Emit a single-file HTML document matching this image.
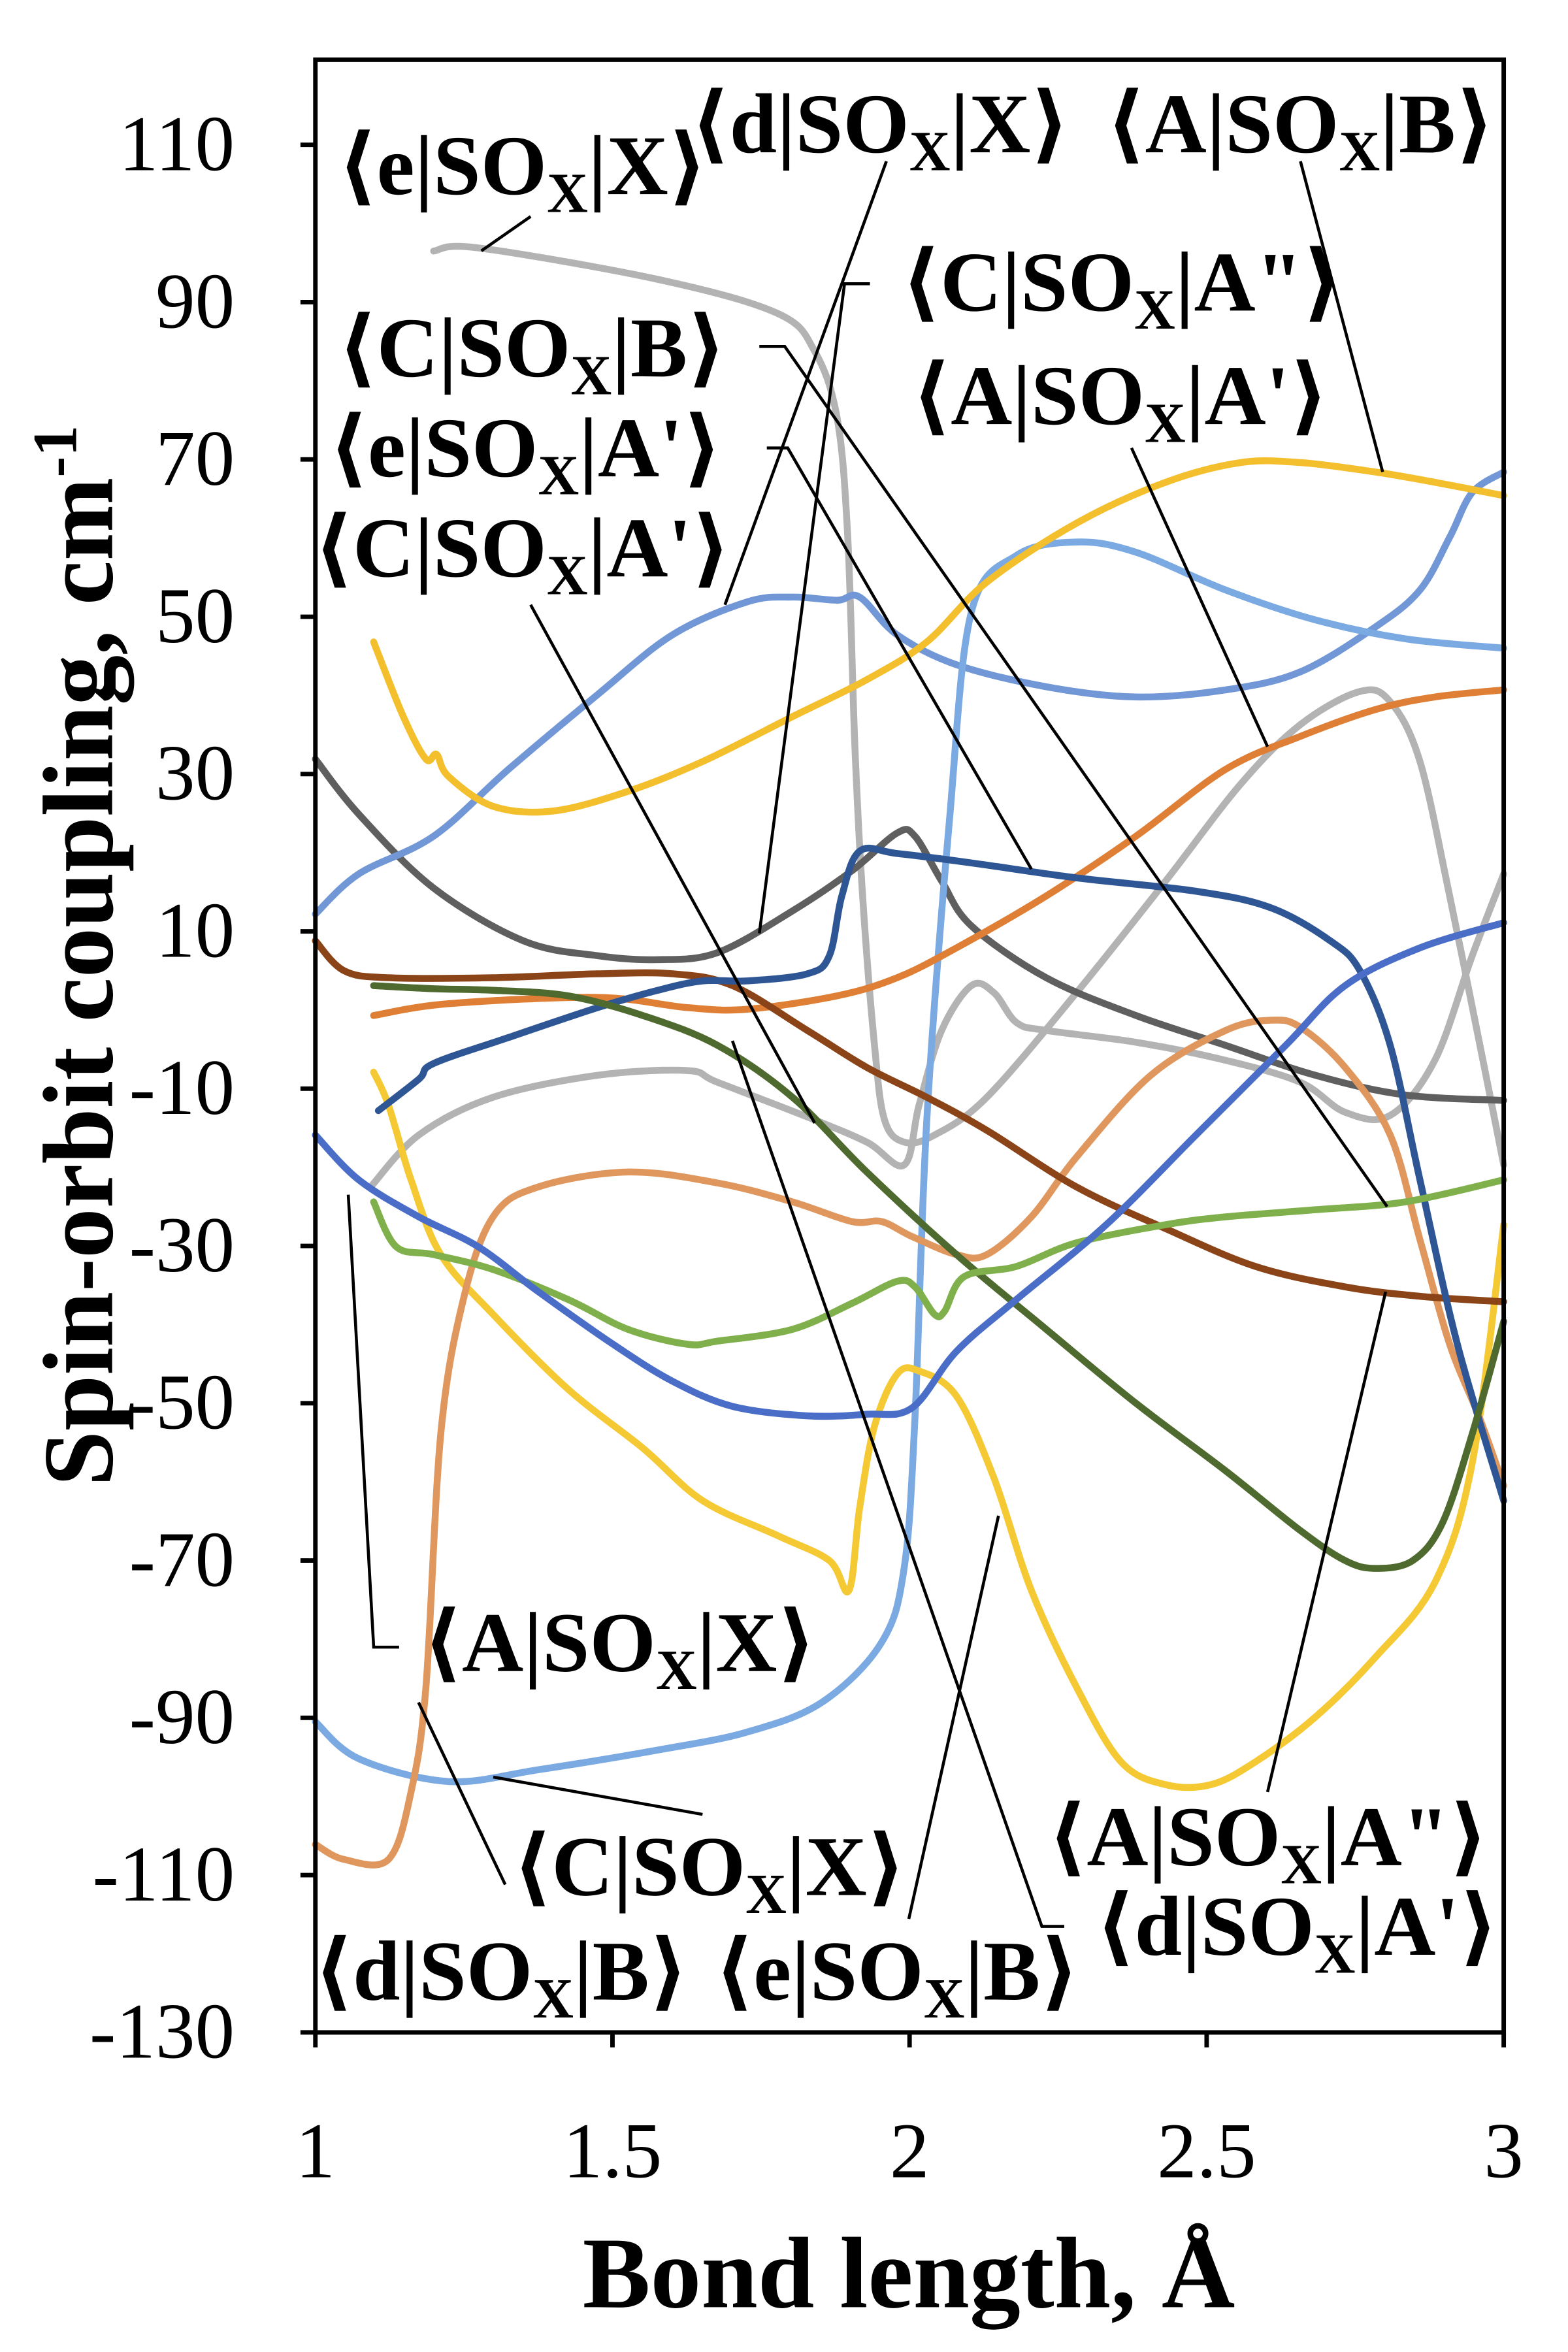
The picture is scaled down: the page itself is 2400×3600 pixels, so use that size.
<!DOCTYPE html>
<html><head><meta charset="utf-8">
<style>
html,body{margin:0;padding:0;background:#fff;}
svg{display:block;}
text{font-family:"Liberation Serif","DejaVu Serif",serif;fill:#000;}
.lab{font-size:57px;font-weight:bold;}
.tick{font-size:53px;}
</style></head>
<body>
<svg id="chart" xmlns="http://www.w3.org/2000/svg" width="2400" height="3600" viewBox="0 0 1049 1575" preserveAspectRatio="none">
<rect x="0" y="0" width="1049" height="1575" fill="#fff"/>
<g id="plot"></g>
<g id="leaders" stroke="#000" stroke-width="2" fill="none">
<polyline points="322,168 355,145"/>
<polyline points="485,405 593,108"/>
<polyline points="870,108 925,316"/>
<polyline points="508,625 565,190 582,190"/>
<polyline points="508,232 525,232 928,808"/>
<polyline points="757,300 848,500"/>
<polyline points="513,300 527,300 690,582"/>
<polyline points="355,405 545,752"/>
<polyline points="233,800 250,1103 267,1103"/>
<polyline points="330,1190 470,1215"/>
<polyline points="280,1140 338,1262"/>
<polyline points="668,1015 608,1285"/>
<polyline points="927,865 848,1200"/>
<polyline points="490,697 697,1290 712,1290"/>
</g>
<g id="labels">
<text class="lab" x="226" y="130">⟨e|SO<tspan font-size="38" dy="12">X</tspan><tspan dy="-12">|X⟩</tspan></text>
<text class="lab" x="462" y="102">⟨d|SO<tspan font-size="38" dy="12">X</tspan><tspan dy="-12">|X⟩</tspan></text>
<text class="lab" x="740" y="102">⟨A|SO<tspan font-size="38" dy="12">X</tspan><tspan dy="-12">|B⟩</tspan></text>
<text class="lab" x="603" y="208">⟨C|SO<tspan font-size="38" dy="12">X</tspan><tspan dy="-12">|A"⟩</tspan></text>
<text class="lab" x="226" y="252">⟨C|SO<tspan font-size="38" dy="12">X</tspan><tspan dy="-12">|B⟩</tspan></text>
<text class="lab" x="610" y="284">⟨A|SO<tspan font-size="38" dy="12">X</tspan><tspan dy="-12">|A'⟩</tspan></text>
<text class="lab" x="220" y="319">⟨e|SO<tspan font-size="38" dy="12">X</tspan><tspan dy="-12">|A'⟩</tspan></text>
<text class="lab" x="210" y="386">⟨C|SO<tspan font-size="38" dy="12">X</tspan><tspan dy="-12">|A'⟩</tspan></text>
<text class="lab" x="283" y="1119">⟨A|SO<tspan font-size="38" dy="12">X</tspan><tspan dy="-12">|X⟩</tspan></text>
<text class="lab" x="343" y="1269">⟨C|SO<tspan font-size="38" dy="12">X</tspan><tspan dy="-12">|X⟩</tspan></text>
<text class="lab" x="210" y="1339">⟨d|SO<tspan font-size="38" dy="12">X</tspan><tspan dy="-12">|B⟩</tspan></text>
<text class="lab" x="478" y="1339">⟨e|SO<tspan font-size="38" dy="12">X</tspan><tspan dy="-12">|B⟩</tspan></text>
<text class="lab" x="701" y="1249">⟨A|SO<tspan font-size="38" dy="12">X</tspan><tspan dy="-12">|A"⟩</tspan></text>
<text class="lab" x="733" y="1309">⟨d|SO<tspan font-size="38" dy="12">X</tspan><tspan dy="-12">|A'⟩</tspan></text>
</g>
<text x="608" y="1545" text-anchor="middle" font-size="68" font-weight="bold">Bond length, Å</text>
<text transform="translate(75,640) rotate(-90)" text-anchor="middle" font-size="67" font-weight="bold">Spin-orbit coupling, cm<tspan font-size="42" dy="-24">-1</tspan></text>
</svg>
<script>
const xTicks=[1,1.5,2,2.5,3];
const xTickLabels=["1","1.5","2","2.5","3"];
const yTicks=[110,90,70,50,30,10,-10,-30,-50,-70,-90,-110,-130];
const yTickLabels=["110","90","70","50","30","10","-10","-30","-50","-70","-90","-110","-130"];
const seriesNames=["e-x","x-lower-gray","c-a2","d-x","c-x","a-b","e-b","d-b","a-a1","a-a2","e-a1","d-a1","c-a1","a-x"];
const seriesColors=["#b3b3b3","#b3b3b3","#5f5f5f","#7197d6","#7ba9e2","#f3bf2c","#f4c934","#e0975e","#de7f35","#8b4318","#2f5694","#4f6a2e","#80b04b","#4a6dc7"];
const xs0=[1.199,1.274,1.576,1.777,1.840,1.878,1.896,1.908,1.921,1.941,1.958,1.991,2.042,2.130,2.281,2.431,2.557,2.658,2.758,2.809,2.859,2.909,2.960,3.0];
const ys0=[96.5,96.9,92.9,88.6,83.8,75.3,60.1,33.5,14.5,-4.5,-14.0,-16.8,-15.9,-11.1,2.2,16.4,28.7,36.3,40.5,39.2,31.6,14.5,-4.5,-19.7];
const xs1=[1.093,1.174,1.299,1.475,1.626,1.677,1.828,1.928,1.991,2.016,2.054,2.104,2.142,2.180,2.230,2.381,2.532,2.658,2.733,2.809,2.884,2.947,3.0];
const ys1=[-22.5,-15.9,-11.1,-8.3,-7.7,-9.2,-13.6,-16.8,-19.7,-12.1,-2.6,3.1,2.2,-1.6,-2.6,-4.1,-6.4,-9.2,-13.0,-13.4,-6.4,6.9,17.3];
const xs2=[1.0,1.073,1.199,1.350,1.475,1.576,1.677,1.803,1.903,1.979,2.009,2.054,2.104,2.230,2.381,2.532,2.683,2.834,3.0];
const ys2=[31.9,24.9,15.5,8.8,6.9,6.4,7.3,12.6,17.7,22.5,22.1,16.4,10.7,4.1,-0.7,-4.5,-8.3,-10.8,-11.5];
const xs3=[1.0,1.073,1.199,1.325,1.475,1.601,1.727,1.803,1.878,1.916,1.979,2.079,2.230,2.381,2.532,2.658,2.784,2.859,2.909,2.947,3.0];
const ys3=[12.2,17.3,22.1,30.6,40.1,47.7,51.9,52.5,52.1,52.5,47.7,43.9,41.1,39.8,40.7,43.0,48.7,53.4,60.1,65.8,68.4];
const xs4=[1.0,1.073,1.224,1.375,1.576,1.727,1.853,1.953,1.991,2.009,2.029,2.067,2.104,2.180,2.281,2.381,2.532,2.683,2.834,3.0];
const ys4=[-90.5,-95.2,-98.1,-96.6,-94.1,-91.8,-88.0,-80.4,-70.9,-52.0,-14.0,24.0,50.6,57.8,59.5,58.2,53.4,49.6,47.2,46.0];
const xs5=[1.098,1.148,1.186,1.204,1.224,1.299,1.400,1.526,1.652,1.803,1.928,2.029,2.130,2.281,2.431,2.557,2.658,2.784,2.884,3.0];
const ys5=[46.8,37.3,31.9,32.5,29.7,25.9,25.3,27.8,31.6,37.3,42.0,46.8,54.4,61.9,67.1,69.6,69.6,68.4,67.1,65.4];
const xs6=[1.098,1.123,1.161,1.211,1.299,1.425,1.551,1.652,1.777,1.865,1.898,1.916,1.941,1.979,2.016,2.079,2.142,2.205,2.281,2.356,2.431,2.507,2.582,2.683,2.784,2.884,2.947,3.0];
const ys6=[-7.9,-12.1,-21.6,-31.1,-38.7,-48.2,-55.7,-62.4,-66.8,-70.0,-73.8,-63.3,-52.9,-46.3,-45.9,-49.1,-59.5,-73.8,-86.1,-95.6,-98.5,-98.5,-95.6,-89.9,-82.3,-72.8,-57.6,-27.3];
const xs7=[1.0,1.048,1.123,1.161,1.186,1.211,1.249,1.299,1.375,1.526,1.677,1.803,1.903,1.953,2.004,2.079,2.130,2.205,2.281,2.406,2.532,2.608,2.658,2.733,2.809,2.859,2.909,2.960,3.0];
const ys7=[-106.1,-108.0,-108.0,-99.4,-86.1,-53.9,-36.8,-26.3,-22.5,-20.6,-22.0,-24.4,-26.9,-26.9,-28.8,-31.1,-31.1,-26.3,-18.7,-8.3,-2.6,-1.3,-2.2,-7.3,-15.9,-29.2,-42.5,-52.0,-60.5];
const xs8=[1.098,1.224,1.475,1.626,1.727,1.878,1.979,2.079,2.230,2.381,2.532,2.658,2.784,2.884,3.0];
const ys8=[-0.7,0.8,1.6,0.3,0.1,1.8,4.1,7.9,14.5,22.1,30.6,34.8,38.2,39.8,40.7];
const xs9=[1.0,1.048,1.123,1.299,1.475,1.601,1.702,1.828,1.928,2.029,2.130,2.281,2.431,2.582,2.733,2.859,3.0];
const ys9=[8.8,5.0,4.1,4.1,4.6,4.6,3.1,-2.6,-7.3,-11.1,-15.3,-22.5,-27.8,-32.6,-35.2,-36.4,-37.1];
const xs10=[1.106,1.174,1.199,1.325,1.475,1.576,1.652,1.727,1.828,1.865,1.886,1.916,1.979,2.104,2.281,2.482,2.608,2.708,2.758,2.809,2.859,2.922,3.0];
const ys10=[-12.8,-8.8,-6.8,-3.5,0.3,2.5,3.7,3.7,4.6,6.9,14.5,20.2,19.9,18.7,16.8,15.1,13.0,8.8,5.0,-4.5,-21.6,-42.5,-62.4];
const xs11=[1.098,1.199,1.299,1.425,1.551,1.677,1.803,1.928,2.079,2.230,2.381,2.532,2.658,2.733,2.784,2.847,2.897,2.947,3.0];
const ys11=[3.1,2.7,2.5,1.8,-0.7,-4.5,-11.1,-20.6,-31.1,-40.6,-50.0,-58.6,-66.2,-70.0,-71.0,-70.0,-65.2,-53.9,-39.6];
const xs12=[1.098,1.136,1.199,1.299,1.425,1.526,1.626,1.677,1.803,1.903,1.979,2.009,2.042,2.059,2.092,2.180,2.281,2.431,2.532,2.683,2.834,3.0];
const ys12=[-24.4,-30.1,-31.1,-33.0,-36.8,-40.6,-42.5,-42.1,-40.6,-37.3,-34.5,-35.2,-38.7,-38.3,-33.9,-32.6,-29.6,-27.3,-26.3,-25.4,-24.4,-21.6];
const xs13=[1.0,1.073,1.174,1.274,1.375,1.501,1.601,1.702,1.828,1.928,2.004,2.079,2.180,2.331,2.482,2.633,2.733,2.859,3.0];
const ys13=[-15.9,-21.6,-26.3,-30.1,-35.8,-42.5,-47.2,-50.4,-51.6,-51.4,-50.6,-43.4,-36.8,-27.3,-15.9,-4.5,3.1,7.9,11.1];
const seriesX=[xs0,xs1,xs2,xs3,xs4,xs5,xs6,xs7,xs8,xs9,xs10,xs11,xs12,xs13];
const seriesY=[ys0,ys1,ys2,ys3,ys4,ys5,ys6,ys7,ys8,ys9,ys10,ys11,ys12,ys13];

const L=211,R=1006,T=40,B=1361;
const xMin=1,xMax=3,yMin=-130,yMax=110,yTopPx=97;
function xScale(v){return L+(v-xMin)/(xMax-xMin)*(R-L);}
function yScale(v){return B-(v-yMin)/(yMax-yMin)*(B-yTopPx);}
const NS="http://www.w3.org/2000/svg";
const plot=document.getElementById('plot');
function mk(tag,attrs){const e=document.createElementNS(NS,tag);for(const k in attrs)e.setAttribute(k,attrs[k]);return e;}

for(let s=0;s<seriesX.length;s++){
  const px=seriesX[s].map(xScale), py=seriesY[s].map(yScale);
  let d="M"+px[0]+","+py[0];
  for(let i=0;i<px.length-1;i++){
    const p0x=px[Math.max(i-1,0)],p0y=py[Math.max(i-1,0)];
    const p3x=px[Math.min(i+2,px.length-1)],p3y=py[Math.min(i+2,px.length-1)];
    const c1x=px[i]+(px[i+1]-p0x)/6,c1y=py[i]+(py[i+1]-p0y)/6;
    const c2x=px[i+1]-(p3x-px[i])/6,c2y=py[i+1]-(p3y-py[i])/6;
    d+=" C"+c1x+","+c1y+" "+c2x+","+c2y+" "+px[i+1]+","+py[i+1];
  }
  const path=mk('path',{d:d,fill:'none',stroke:seriesColors[s],'stroke-width':4.6,'stroke-linejoin':'round','stroke-linecap':'round'});
  
  
  plot.appendChild(path);
}
const frame=mk('rect',{x:L,y:T,width:R-L,height:B-T,fill:'none',stroke:'#000','stroke-width':3});


plot.appendChild(frame);
for(let i=0;i<yTicks.length;i++){
  const y=yScale(yTicks[i]);
  const tk=mk('line',{x1:L-10,x2:L,y1:y,y2:y,stroke:'#000','stroke-width':3});
  
  
  plot.appendChild(tk);
  const t=mk('text',{x:157,y:y+17,'text-anchor':'end',class:'tick'});
  t.textContent=yTickLabels[i];
  
  
  plot.appendChild(t);
}
for(let i=0;i<xTicks.length;i++){
  const x=xScale(xTicks[i]);
  const tk=mk('line',{x1:x,x2:x,y1:B,y2:B+10,stroke:'#000','stroke-width':3});
  
  
  plot.appendChild(tk);
  const t=mk('text',{x:x,y:1458,'text-anchor':'middle',class:'tick'});
  t.textContent=xTickLabels[i];
  
  
  plot.appendChild(t);
}
</script>
</body></html>
